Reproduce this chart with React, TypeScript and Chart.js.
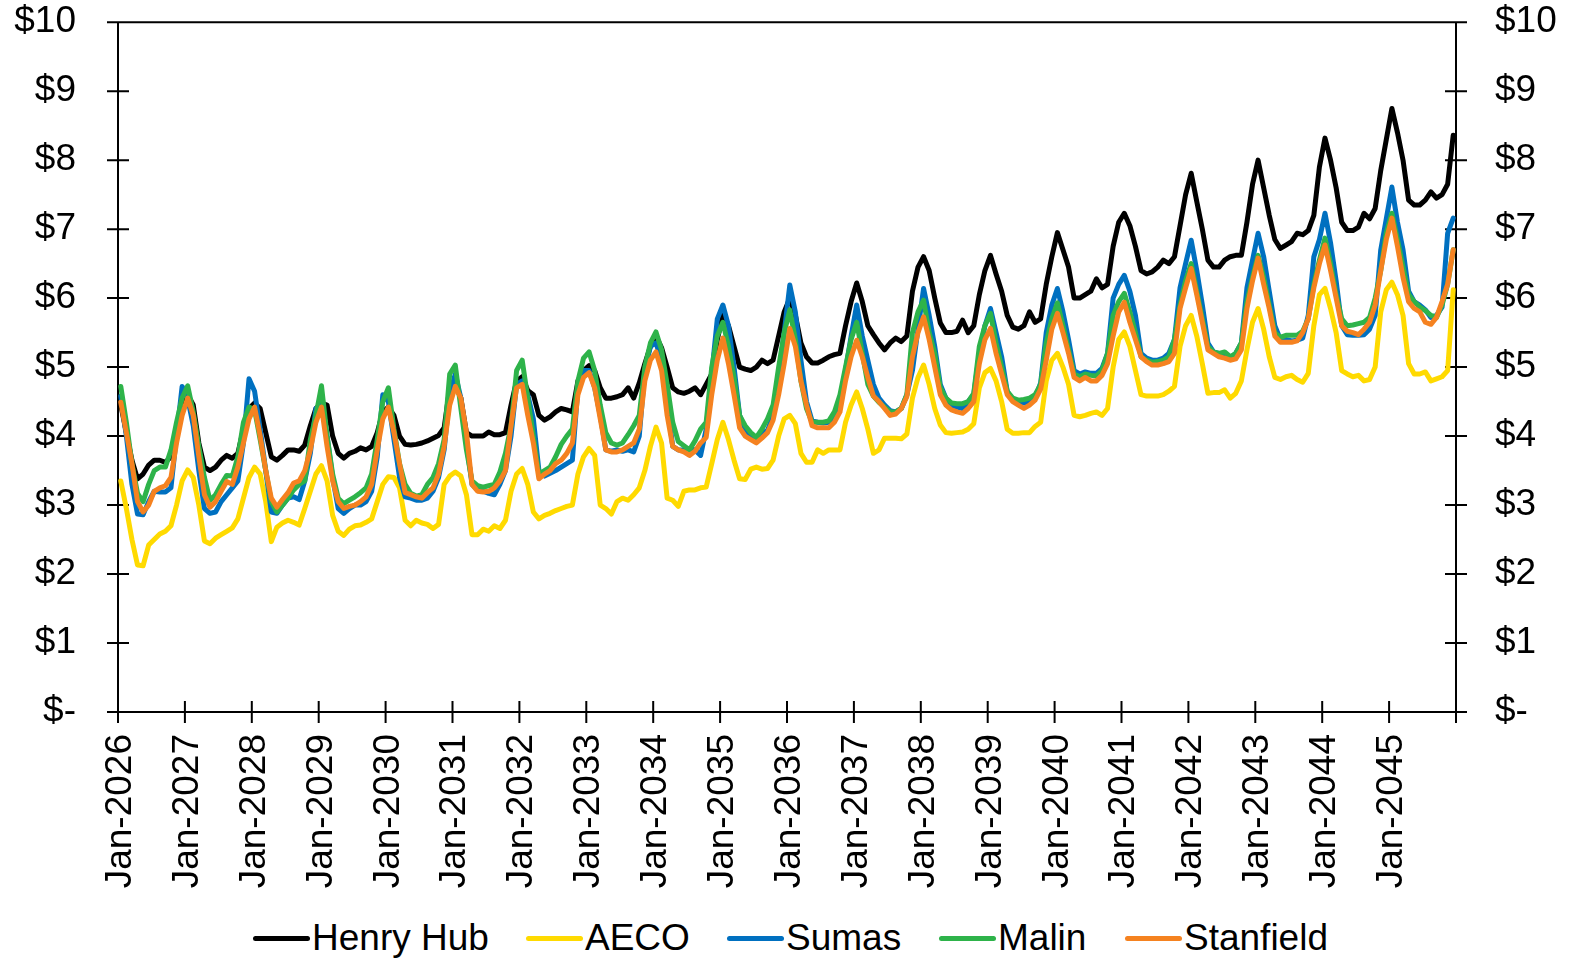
import React, { useEffect, useRef } from "react";
import { Chart, registerables } from "chart.js";

Chart.register(...registerables);

// ---------- categories ----------
const years = [2026, 2027, 2028, 2029, 2030, 2031, 2032, 2033, 2034, 2035, 2036, 2037, 2038, 2039, 2040, 2041, 2042, 2043, 2044, 2045];
const monthNames = ["Jan", "Feb", "Mar", "Apr", "May", "Jun", "Jul", "Aug", "Sep", "Oct", "Nov", "Dec"];
const months: string[] = years.flatMap((y) => monthNames.map((m) => `${m}-${y}`));

// ---------- y ticks ----------
const yTickValues = [0, 1, 2, 3, 4, 5, 6, 7, 8, 9, 10];
const yTickLabels = ["$-", "$1", "$2", "$3", "$4", "$5", "$6", "$7", "$8", "$9", "$10"];

// ---------- series ($/MMBtu, monthly Jan-2026 .. Dec-2045) ----------
const henryHub = [
  4.45, 4.05, 3.65, 3.38, 3.45, 3.58, 3.65, 3.65, 3.62, 3.70, 4.00, 4.35,
  4.60, 4.45, 3.90, 3.55, 3.50, 3.55, 3.65, 3.72, 3.68, 3.75, 4.10, 4.40,
  4.48, 4.40, 4.05, 3.70, 3.65, 3.72, 3.80, 3.80, 3.78, 3.87, 4.15, 4.40,
  4.48, 4.45, 4.00, 3.75, 3.68, 3.75, 3.78, 3.83, 3.80, 3.85, 4.05, 4.35,
  4.42, 4.30, 4.00, 3.88, 3.87, 3.88, 3.90, 3.93, 3.97, 4.01, 4.12, 4.70,
  4.75, 4.55, 4.05, 4.00, 4.00, 4.00, 4.06, 4.02, 4.02, 4.05, 4.45, 4.80,
  4.86, 4.66, 4.60, 4.30, 4.23, 4.28, 4.35, 4.40, 4.38, 4.35, 4.80, 4.95,
  5.02, 4.95, 4.70, 4.55, 4.55, 4.57, 4.60, 4.70, 4.55, 4.77, 5.05, 5.30,
  5.45, 5.28, 5.00, 4.70, 4.64, 4.62, 4.65, 4.70, 4.60, 4.75, 4.90, 5.40,
  5.75, 5.60, 5.30, 5.00, 4.97, 4.95, 5.00, 5.10, 5.05, 5.10, 5.45, 5.80,
  6.00, 5.75, 5.35, 5.15, 5.06, 5.06, 5.10, 5.15, 5.18, 5.20, 5.60, 5.95,
  6.22, 5.95, 5.60, 5.47, 5.35, 5.25, 5.35, 5.42, 5.37, 5.45, 6.10, 6.45,
  6.60, 6.40, 6.00, 5.64, 5.50, 5.50, 5.52, 5.68, 5.50, 5.60, 6.05, 6.40,
  6.62, 6.35, 6.10, 5.75, 5.58, 5.55, 5.60, 5.80, 5.65, 5.70, 6.20, 6.60,
  6.95, 6.70, 6.45, 6.00, 6.00, 6.05, 6.10, 6.28, 6.15, 6.20, 6.75, 7.10,
  7.23, 7.05, 6.75, 6.40, 6.35, 6.38, 6.45, 6.55, 6.50, 6.60, 7.05, 7.50,
  7.81, 7.40, 7.00, 6.55, 6.45, 6.45, 6.55, 6.60, 6.62, 6.62, 7.10, 7.65,
  8.00, 7.60, 7.20, 6.85, 6.72, 6.77, 6.82, 6.94, 6.92, 6.98, 7.20, 7.90,
  8.32, 8.00, 7.60, 7.10, 6.98, 6.98, 7.03, 7.23, 7.15, 7.30, 7.85, 8.30,
  8.75, 8.40, 8.00, 7.42, 7.35, 7.35, 7.42, 7.54, 7.45, 7.50, 7.65, 8.36,
];

const aeco = [
  3.35, 2.95, 2.50, 2.13, 2.12, 2.42, 2.50, 2.58, 2.62, 2.70, 3.00, 3.35,
  3.51, 3.40, 3.00, 2.48, 2.44, 2.52, 2.57, 2.62, 2.67, 2.80, 3.10, 3.40,
  3.55, 3.45, 3.05, 2.47, 2.68, 2.74, 2.78, 2.75, 2.71, 2.95, 3.20, 3.45,
  3.57, 3.35, 2.85, 2.62, 2.56, 2.65, 2.70, 2.71, 2.75, 2.80, 3.05, 3.30,
  3.41, 3.40, 3.25, 2.78, 2.70, 2.78, 2.74, 2.72, 2.66, 2.72, 3.30, 3.42,
  3.48, 3.42, 3.15, 2.57, 2.57, 2.65, 2.62, 2.70, 2.66, 2.78, 3.20, 3.45,
  3.53, 3.30, 2.90, 2.80, 2.85, 2.88, 2.92, 2.95, 2.98, 3.00, 3.45, 3.70,
  3.82, 3.72, 3.00, 2.95, 2.87, 3.05, 3.10, 3.07, 3.15, 3.25, 3.50, 3.85,
  4.13, 3.90, 3.10, 3.07, 2.98, 3.20, 3.22, 3.22, 3.25, 3.26, 3.60, 3.95,
  4.20, 3.95, 3.65, 3.38, 3.37, 3.52, 3.55, 3.52, 3.53, 3.65, 4.00, 4.25,
  4.30, 4.18, 3.75, 3.62, 3.62, 3.80, 3.75, 3.80, 3.80, 3.80, 4.20, 4.45,
  4.64, 4.40, 4.10, 3.75, 3.80, 3.97, 3.97, 3.97, 3.96, 4.03, 4.55, 4.85,
  5.03, 4.75, 4.40, 4.16, 4.05, 4.04, 4.05, 4.06, 4.10, 4.18, 4.70, 4.92,
  4.98, 4.80, 4.50, 4.10, 4.04, 4.04, 4.05, 4.05, 4.14, 4.20, 4.80, 5.10,
  5.20, 5.00, 4.75, 4.30, 4.28, 4.30, 4.33, 4.35, 4.30, 4.40, 5.00, 5.40,
  5.51, 5.30, 4.95, 4.60, 4.58, 4.58, 4.58, 4.60, 4.65, 4.72, 5.30, 5.60,
  5.75, 5.45, 5.05, 4.62, 4.63, 4.63, 4.67, 4.55, 4.62, 4.80, 5.25, 5.65,
  5.85, 5.55, 5.15, 4.85, 4.82, 4.86, 4.88, 4.82, 4.78, 4.91, 5.60, 6.05,
  6.14, 5.85, 5.50, 4.95, 4.90, 4.86, 4.88, 4.80, 4.82, 5.00, 5.80, 6.12,
  6.23, 6.05, 5.75, 5.05, 4.90, 4.90, 4.93, 4.80, 4.83, 4.86, 4.95, 6.12,
];

const sumas = [
  4.58, 4.00, 3.30, 2.87, 2.86, 3.05, 3.20, 3.19, 3.19, 3.25, 4.00, 4.72,
  4.55, 4.15, 3.50, 2.95, 2.88, 2.90, 3.05, 3.15, 3.25, 3.35, 3.90, 4.83,
  4.65, 4.10, 3.50, 2.90, 2.88, 3.00, 3.10, 3.12, 3.08, 3.35, 3.75, 4.40,
  4.45, 4.00, 3.40, 2.95, 2.88, 2.95, 3.00, 3.00, 3.05, 3.20, 3.70, 4.60,
  4.50, 3.95, 3.40, 3.12, 3.10, 3.07, 3.07, 3.10, 3.20, 3.40, 3.80, 4.60,
  4.90, 4.55, 3.90, 3.30, 3.22, 3.20, 3.17, 3.15, 3.30, 3.50, 4.00, 4.75,
  4.80, 4.60, 4.25, 3.50, 3.42, 3.46, 3.50, 3.55, 3.60, 3.65, 4.70, 4.95,
  4.95, 4.70, 4.30, 3.80, 3.78, 3.80, 3.78, 3.80, 3.77, 4.00, 4.95, 5.30,
  5.35, 5.10, 4.50, 3.85, 3.80, 3.80, 3.82, 3.80, 3.72, 4.10, 4.90, 5.70,
  5.90, 5.60, 5.00, 4.30, 4.10, 4.00, 3.98, 4.04, 4.08, 4.30, 4.85, 5.50,
  6.19, 5.80, 5.10, 4.50, 4.22, 4.20, 4.19, 4.20, 4.30, 4.50, 4.95, 5.45,
  5.90, 5.45, 5.10, 4.75, 4.55, 4.45, 4.37, 4.35, 4.40, 4.60, 4.95, 5.55,
  6.14, 5.75, 5.30, 4.75, 4.55, 4.45, 4.42, 4.40, 4.50, 4.60, 5.20, 5.60,
  5.85, 5.50, 5.15, 4.65, 4.52, 4.50, 4.48, 4.50, 4.55, 4.77, 5.50, 5.90,
  6.14, 5.80, 5.40, 4.95, 4.90, 4.93, 4.91, 4.91, 4.98, 5.20, 6.00, 6.20,
  6.33, 6.10, 5.75, 5.20, 5.13, 5.10, 5.10, 5.13, 5.20, 5.40, 6.15, 6.50,
  6.84, 6.40, 5.90, 5.35, 5.22, 5.20, 5.18, 5.13, 5.20, 5.35, 6.15, 6.55,
  6.94, 6.60, 6.10, 5.60, 5.40, 5.40, 5.38, 5.39, 5.42, 5.75, 6.60, 6.85,
  7.23, 6.80, 6.25, 5.60, 5.47, 5.46, 5.46, 5.47, 5.55, 5.75, 6.70, 7.15,
  7.61, 7.10, 6.70, 6.10, 5.95, 5.90, 5.83, 5.72, 5.75, 5.87, 6.94, 7.16,
];

const malin = [
  4.72, 4.20, 3.60, 3.17, 3.05, 3.30, 3.50, 3.55, 3.55, 3.80, 4.20, 4.55,
  4.73, 4.35, 3.85, 3.40, 3.07, 3.15, 3.30, 3.43, 3.42, 3.70, 4.20, 4.42,
  4.38, 3.95, 3.50, 3.05, 2.90, 3.00, 3.10, 3.22, 3.30, 3.35, 3.95, 4.30,
  4.73, 4.00, 3.45, 3.10, 3.02, 3.07, 3.12, 3.18, 3.25, 3.45, 3.95, 4.50,
  4.70, 4.10, 3.60, 3.30, 3.17, 3.13, 3.15, 3.30, 3.40, 3.60, 3.95, 4.90,
  5.03, 4.40, 3.80, 3.35, 3.28, 3.26, 3.28, 3.30, 3.48, 3.75, 4.15, 4.95,
  5.10, 4.55, 4.00, 3.45, 3.50, 3.55, 3.70, 3.88, 4.00, 4.10, 4.80, 5.13,
  5.22, 4.95, 4.45, 4.05, 3.90, 3.87, 3.90, 4.02, 4.15, 4.30, 5.00, 5.35,
  5.51, 5.25, 4.75, 4.20, 3.92, 3.86, 3.80, 3.93, 4.10, 4.20, 5.00, 5.45,
  5.65, 5.30, 4.85, 4.30, 4.15, 4.05, 3.98, 4.10, 4.25, 4.45, 5.00, 5.50,
  5.83, 5.40, 4.80, 4.40, 4.20, 4.20, 4.20, 4.22, 4.35, 4.60, 5.00, 5.40,
  5.65, 5.20, 4.75, 4.58, 4.49, 4.42, 4.35, 4.35, 4.40, 4.60, 5.50, 5.80,
  5.97, 5.50, 5.20, 4.70, 4.55, 4.48, 4.47, 4.47, 4.50, 4.62, 5.30, 5.60,
  5.78, 5.35, 5.00, 4.65, 4.55, 4.52, 4.53, 4.55, 4.60, 4.75, 5.35, 5.70,
  5.93, 5.60, 5.25, 4.90, 4.86, 4.90, 4.88, 4.87, 4.95, 5.20, 5.75, 5.95,
  6.07, 5.80, 5.50, 5.15, 5.10, 5.07, 5.08, 5.10, 5.15, 5.40, 5.90, 6.25,
  6.50, 6.10, 5.70, 5.30, 5.22, 5.20, 5.22, 5.15, 5.20, 5.35, 5.95, 6.30,
  6.62, 6.30, 5.90, 5.50, 5.43, 5.46, 5.46, 5.46, 5.52, 5.70, 6.20, 6.55,
  6.87, 6.50, 6.05, 5.70, 5.60, 5.61, 5.63, 5.65, 5.72, 6.00, 6.40, 6.95,
  7.23, 6.85, 6.45, 6.05, 5.95, 5.87, 5.82, 5.75, 5.72, 5.90, 6.20, 6.70,
];

const stanfield = [
  4.49, 4.05, 3.60, 3.05, 2.90, 3.00, 3.20, 3.25, 3.28, 3.40, 3.90, 4.30,
  4.55, 4.30, 3.70, 3.15, 2.97, 3.05, 3.20, 3.34, 3.30, 3.55, 3.90, 4.25,
  4.42, 4.00, 3.50, 3.10, 2.97, 3.08, 3.18, 3.32, 3.35, 3.50, 3.80, 4.20,
  4.42, 3.85, 3.35, 3.05, 2.95, 2.98, 3.00, 3.05, 3.12, 3.30, 3.80, 4.25,
  4.42, 4.05, 3.60, 3.18, 3.15, 3.12, 3.10, 3.18, 3.25, 3.45, 3.85, 4.45,
  4.72, 4.55, 4.05, 3.30, 3.20, 3.19, 3.20, 3.25, 3.35, 3.50, 4.15, 4.70,
  4.75, 4.30, 3.90, 3.38, 3.45, 3.50, 3.60, 3.65, 3.75, 3.90, 4.60, 4.85,
  4.92, 4.70, 4.25, 3.80, 3.77, 3.77, 3.80, 3.85, 3.90, 4.10, 4.80, 5.10,
  5.22, 4.95, 4.30, 3.85, 3.80, 3.77, 3.72, 3.78, 3.90, 3.98, 4.60, 5.10,
  5.42, 5.05, 4.60, 4.12, 4.00, 3.95, 3.90, 3.97, 4.05, 4.23, 4.60, 5.05,
  5.56, 5.30, 4.80, 4.45, 4.15, 4.12, 4.12, 4.12, 4.20, 4.35, 4.80, 5.15,
  5.39, 5.15, 4.85, 4.58, 4.50, 4.40, 4.30, 4.32, 4.40, 4.57, 5.15, 5.50,
  5.73, 5.40, 5.00, 4.60, 4.45, 4.38, 4.35, 4.33, 4.40, 4.50, 5.05, 5.40,
  5.56, 5.20, 4.90, 4.60, 4.50, 4.45, 4.40, 4.45, 4.52, 4.68, 5.10, 5.55,
  5.78, 5.50, 5.20, 4.85, 4.80, 4.85, 4.80, 4.80, 4.88, 5.05, 5.45, 5.80,
  5.94, 5.65, 5.40, 5.15, 5.08, 5.03, 5.03, 5.05, 5.08, 5.20, 5.85, 6.15,
  6.43, 6.05, 5.65, 5.25, 5.20, 5.15, 5.13, 5.10, 5.12, 5.25, 5.85, 6.25,
  6.58, 6.20, 5.85, 5.45, 5.36, 5.36, 5.36, 5.38, 5.50, 5.70, 6.15, 6.50,
  6.77, 6.40, 6.00, 5.60, 5.52, 5.50, 5.47, 5.55, 5.65, 5.90, 6.40, 6.85,
  7.16, 6.75, 6.30, 5.95, 5.85, 5.80, 5.65, 5.62, 5.72, 5.95, 6.20, 6.70,
];

const FONT = "'Liberation Sans', Arial, Helvetica, sans-serif";
const FONT_SIZE = 37;

const series = [
  { label: "Henry Hub", data: henryHub, color: "#000000", order: 4 },
  { label: "AECO", data: aeco, color: "#FFDA00", order: 3 },
  { label: "Sumas", data: sumas, color: "#0070C0", order: 2 },
  { label: "Malin", data: malin, color: "#2EB34A", order: 1 },
  { label: "Stanfield", data: stanfield, color: "#F58220", order: 0 },
];

// legend item left edges (page px)
const legendLefts = [253, 526, 727, 939, 1125];

const CANVAS_W = 1569;
const CANVAS_H = 905;

const axisFrame = {
  id: "axisFrame",
  beforeDatasetsDraw(chart: any) {
    const { ctx, chartArea: a, scales } = chart;
    const y = scales.y;
    const n = chart.data.labels.length;
    const step = (a.right - a.left) / n;
    ctx.save();
    ctx.strokeStyle = "#000";
    ctx.lineWidth = 2;
    ctx.beginPath();
    ctx.rect(a.left, a.top, a.right - a.left, a.bottom - a.top);
    for (const v of yTickValues) {
      const py = y.getPixelForValue(v);
      ctx.moveTo(a.left - 11, py);
      ctx.lineTo(a.left + 11, py);
      ctx.moveTo(a.right - 11, py);
      ctx.lineTo(a.right + 11, py);
    }
    for (let i = 0; i <= n; i += 12) {
      const px = a.left + i * step;
      ctx.moveTo(px, a.bottom - 11);
      ctx.lineTo(px, a.bottom + 11);
    }
    ctx.stroke();
    ctx.restore();
  },
};

export default function App() {
  const canvasRef = useRef<HTMLCanvasElement | null>(null);

  useEffect(() => {
    if (!canvasRef.current) return;
    const tickFont = { family: FONT, size: FONT_SIZE };
    const hiddenGrid = (len: number) => ({
      display: true,
      drawOnChartArea: false,
      drawTicks: true,
      tickLength: len,
      color: "rgba(0,0,0,0)",
    });
    const yLabel = (v: any) => yTickLabels[yTickValues.indexOf(Number(v))] ?? "";
    const chart = new Chart(canvasRef.current, {
      type: "line",
      data: {
        labels: months,
        datasets: series.map((s) => ({
          label: s.label,
          data: s.data,
          borderColor: s.color,
          backgroundColor: s.color,
          borderWidth: 5,
          pointRadius: 0,
          pointHoverRadius: 0,
          tension: 0,
          fill: false,
          order: s.order,
          borderJoinStyle: "round" as const,
          borderCapStyle: "round" as const,
          yAxisID: "y",
        })),
      },
      options: {
        responsive: false,
        maintainAspectRatio: false,
        devicePixelRatio: 1,
        animation: false,
        events: [],
        layout: { padding: { top: 22, left: 0, right: 0, bottom: 0 } },
        plugins: {
          legend: { display: false },
          tooltip: { enabled: false },
        },
        scales: {
          x: {
            type: "category",
            offset: true,
            grid: { ...hiddenGrid(22), offset: true },
            border: { display: false },
            ticks: {
              autoSkip: false,
              minRotation: 90,
              maxRotation: 90,
              padding: 0,
              color: "#000",
              font: tickFont,
              callback: (_v: any, index: number) => (index % 12 === 0 ? months[index] : ""),
            },
            afterFit: (s: any) => {
              s.height = 193;
            },
          },
          y: {
            position: "left",
            min: 0,
            max: 10,
            grid: hiddenGrid(42),
            border: { display: false },
            ticks: {
              stepSize: 1,
              padding: 0,
              color: "#000",
              font: tickFont,
              callback: yLabel,
            },
            afterFit: (s: any) => {
              s.width = 118;
            },
          },
          y2: {
            position: "right",
            min: 0,
            max: 10,
            grid: hiddenGrid(39),
            border: { display: false },
            ticks: {
              stepSize: 1,
              padding: 0,
              color: "#000",
              font: tickFont,
              callback: yLabel,
            },
            afterFit: (s: any) => {
              s.width = 113;
            },
          },
        },
      },
      plugins: [axisFrame],
    });
    return () => chart.destroy();
  }, []);

  return (
    <div style={{ position: "fixed", left: 0, top: 0, width: 1569, height: 958, background: "#fff", overflow: "hidden" }}>
      <canvas ref={canvasRef} width={CANVAS_W} height={CANVAS_H} style={{ position: "absolute", left: 0, top: 0, width: CANVAS_W, height: CANVAS_H, display: "block" }} />
      {series.map((s, i) => (
        <div
          key={s.label}
          style={{
            position: "absolute",
            left: legendLefts[i],
            top: 917,
            height: 42,
            display: "flex",
            alignItems: "center",
            fontFamily: FONT,
            fontSize: FONT_SIZE,
            lineHeight: "42px",
            color: "#000",
            whiteSpace: "nowrap",
          }}
        >
          <span style={{ display: "inline-block", width: 57, height: 5, background: s.color, borderRadius: 2.5, marginRight: 2 }} />
          <span>{s.label}</span>
        </div>
      ))}
    </div>
  );
}
